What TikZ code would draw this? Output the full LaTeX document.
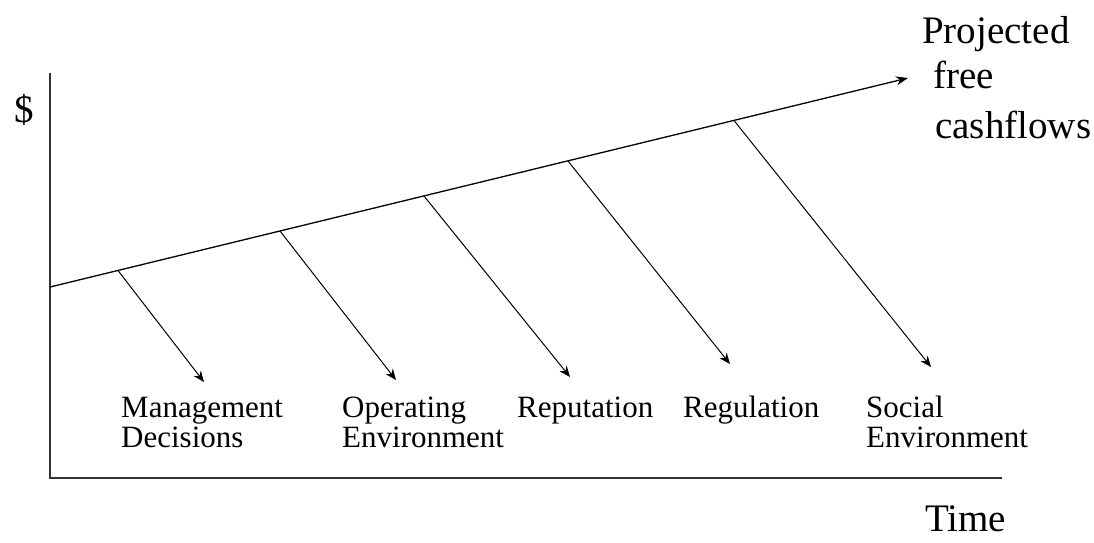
\documentclass[tikz,border=0pt]{standalone}
\usepackage{fontspec}
\setmainfont{Liberation Serif}
\usetikzlibrary{arrows.meta}
\begin{document}
\begin{tikzpicture}[x=1pt,y=-1pt,
  axis/.style={line width=2pt,draw=black!80},
  trend/.style={line width=1.3pt,-{Stealth[length=12pt,width=9pt]}},
  factor/.style={line width=1pt,-{Stealth[length=11pt,width=9pt]}},
  biglabel/.style={font=\fontsize{39}{39}\selectfont,inner sep=0pt,anchor=base west},
  smalllabel/.style={font=\fontsize{31}{31}\selectfont,inner sep=0pt,anchor=base west,align=left}]
\useasboundingbox (0,0) rectangle (1094,542);
% axes
\coordinate (ytop) at (50,73);
\coordinate (origin) at (50,478);
\coordinate (xend) at (1002,478);
\draw[axis] (ytop) -- (origin) -- (xend);
% trend
\coordinate (ts) at (50,287);
\coordinate (te) at (908,78);
\draw[trend] (ts) -- (te);
% branch points
\coordinate (b1) at (118,270.5);
\coordinate (b2) at (280,231);
\coordinate (b3) at (424,196);
\coordinate (b4) at (568,161);
\coordinate (b5) at (734,120.5);
\coordinate (e1) at (204,382);
\coordinate (e2) at (396,380);
\coordinate (e3) at (570,377);
\coordinate (e4) at (730,364);
\coordinate (e5) at (931,367);
\foreach \i in {1,...,5} \draw[factor] (b\i) -- (e\i);
% labels
\node[biglabel] (dollar) at (14,122) {\$};
\node[biglabel] (proj) at (922,43) {Projected};
\node[biglabel] (free) at (933,88) {free};
\node[biglabel] (cash) at (935,138) {cashflows};
\node[biglabel] (time) at (925,531) {Time};
\node[smalllabel] (l1a) at (121,417) {Management};
\node[smalllabel] (l1b) at (121,447) {Decisions};
\node[smalllabel] (l2a) at (342,417) {Operating};
\node[smalllabel] (l2b) at (342,447) {Environment};
\node[smalllabel] (l3) at (517,417) {Reputation};
\node[smalllabel] (l4) at (683,417) {Regulation};
\node[smalllabel] (l5a) at (866,417) {Social};
\node[smalllabel] (l5b) at (866,447) {Environment};
\end{tikzpicture}
\end{document}
